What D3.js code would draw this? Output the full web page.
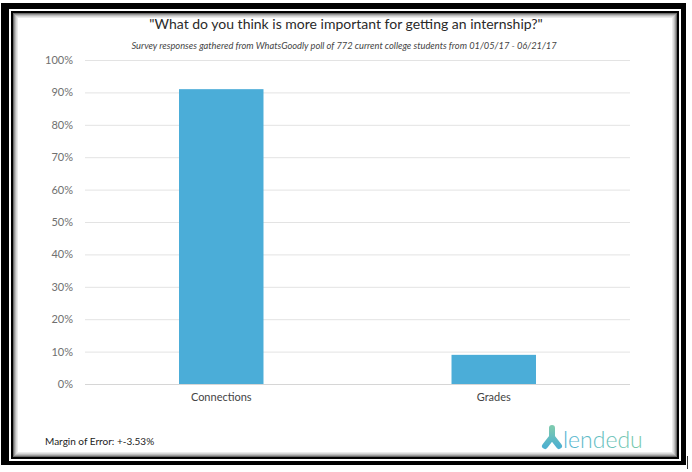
<!DOCTYPE html>
<html>
<head>
<meta charset="utf-8">
<script src="https://cdn.jsdelivr.net/npm/d3@7/dist/d3.min.js"></script>
<style>
  html, body { margin: 0; padding: 0; background: #fff; }
  svg { display: block; font-family: Lato, "Open Sans", sans-serif; }
</style>
</head>
<body>
<svg id="chart" width="692" height="472"></svg>
<script>
// Survey answers: share of respondents per option
const categories = ["Connections", "Grades"];
const shares = [0.91, 0.09];
const yTicks = [0, 0.1, 0.2, 0.3, 0.4, 0.5, 0.6, 0.7, 0.8, 0.9, 1.0];

const titleText = "\"What do you think is more important for getting an internship?\"";
const subtitleText = "Survey responses gathered from WhatsGoodly poll of 772 current college students from 01/05/17 - 06/21/17";
const footnoteText = "Margin of Error: +-3.53%";
const brandText = "lendedu";

const svg = d3.select("#chart");

// ---- framed panel ----
svg.append("rect").attr("x", 1).attr("y", 3).attr("width", 685).attr("height", 462).attr("fill", "#000");
svg.append("rect").attr("x", 9).attr("y", 9).attr("width", 672).attr("height", 452).attr("fill", "#fff");
svg.append("rect").attr("x", 11).attr("y", 11).attr("width", 668).attr("height", 448).attr("fill", "#000");
// soft inner shading of the white panel
const shades = ["#6a6a6a", "#9a9a9a", "#bdbdbd", "#d8d8d8", "#eaeaea", "#f6f6f6"];
const px0 = 13, py0 = 13, px1 = 677, py1 = 457;
shades.forEach((c, i) => {
  svg.append("rect")
    .attr("x", px0 + i).attr("y", py0 + i)
    .attr("width", px1 - px0 - 2 * i).attr("height", py1 - py0 - 2 * i)
    .attr("fill", i === shades.length - 1 ? "#fff" : c);
});
svg.append("line").attr("x1", 687.5).attr("x2", 687.5).attr("y1", 456).attr("y2", 469)
  .attr("stroke", "#333").attr("stroke-width", 1);

// ---- plot ----
const plot = { left: 85, right: 630, top: 60, bottom: 384 };
const x = d3.scaleBand().domain(categories).range([plot.left, plot.right]).paddingInner(0.69).paddingOuter(0.345);
const y = d3.scaleLinear().domain([0, 1]).range([plot.bottom, plot.top]);

const yAxis = d3.axisLeft(y).tickValues(yTicks).tickFormat(d3.format(".0%"))
  .tickSize(-(plot.right - plot.left)).tickPadding(12);
const gy = svg.append("g").attr("transform", `translate(${plot.left},0)`).call(yAxis);
gy.select(".domain").remove();
gy.selectAll(".tick line").attr("stroke", "#e3e3e3").attr("stroke-width", 1);
gy.selectAll(".tick text").attr("fill", "#707070").attr("font-size", 11).attr("font-family", "Lato, sans-serif");

svg.append("g").selectAll("rect").data(categories).join("rect")
  .attr("x", d => x(d))
  .attr("width", x.bandwidth())
  .attr("y", (d, i) => y(shares[i]))
  .attr("height", (d, i) => y(0) - y(shares[i]))
  .attr("fill", "#4badd8");

svg.append("line").attr("x1", plot.left).attr("x2", plot.right)
  .attr("y1", y(0) + 0.5).attr("y2", y(0) + 0.5).attr("stroke", "#d6d6d6");

const xAxis = d3.axisBottom(x).tickSize(0).tickPadding(9);
const gx = svg.append("g").attr("transform", `translate(0,${plot.bottom})`).call(xAxis);
gx.select(".domain").remove();
gx.selectAll(".tick text").attr("fill", "#444").attr("font-size", 11).attr("font-family", "Lato, sans-serif");

// ---- titles ----
svg.append("text").attr("x", 346).attr("y", 29).attr("text-anchor", "middle")
  .attr("font-size", 14).attr("fill", "#2a2a2a").text(titleText);
svg.append("text").attr("x", 344).attr("y", 49).attr("text-anchor", "middle")
  .attr("font-size", 9.3).attr("font-style", "italic").attr("fill", "#444").text(subtitleText);

svg.append("text").attr("x", 45).attr("y", 445).attr("font-size", 10).attr("fill", "#222").text(footnoteText);

// ---- brand mark ----
const defs = svg.append("defs");
const grad = defs.append("linearGradient").attr("id", "brand").attr("x1", "0%").attr("x2", "100%");
grad.append("stop").attr("offset", "0%").attr("stop-color", "#52b3d3");
grad.append("stop").attr("offset", "100%").attr("stop-color", "#78c9a6");
const grad2 = defs.append("linearGradient").attr("id", "brandIcon").attr("x1", "0%").attr("x2", "0%").attr("y1", "0%").attr("y2", "100%");
grad2.append("stop").attr("offset", "0%").attr("stop-color", "#7cc9b0");
grad2.append("stop").attr("offset", "100%").attr("stop-color", "#4fb1cf");

svg.append("path")
  .attr("d", "M552,428 L552,437 M552,437 L545,446 M552,437 L559,446")
  .attr("stroke", "url(#brandIcon)").attr("stroke-width", 6).attr("stroke-linecap", "round")
  .attr("stroke-linejoin", "round").attr("fill", "none");
svg.append("text").attr("x", 563).attr("y", 448).attr("font-size", 23).attr("font-weight", 300)
  .attr("fill", "url(#brand)").text(brandText);
</script>
</body>
</html>
